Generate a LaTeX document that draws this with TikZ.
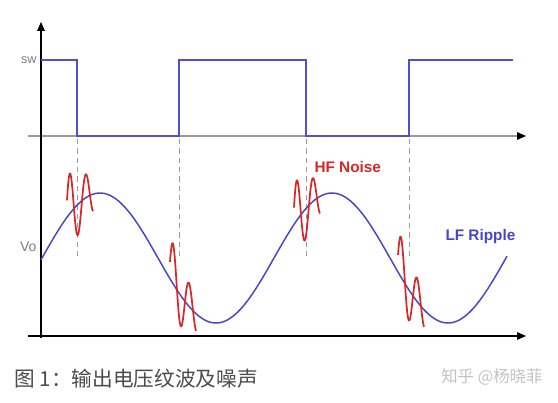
\documentclass[tikz,border=0pt]{standalone}
\usepackage{fontspec}
\setmainfont{Liberation Sans}
\newfontfamily\cjkfont{Noto Sans CJK SC}

\definecolor{swblue}{RGB}{80,80,215}
\definecolor{rippleblue}{RGB}{70,70,205}
\definecolor{noisered}{RGB}{215,40,40}
\definecolor{axisgray}{RGB}{155,155,155}
\definecolor{labelgray}{RGB}{125,125,125}
\definecolor{captiongray}{RGB}{75,75,75}
\definecolor{markgray}{RGB}{195,195,195}

\tikzset{every picture/.style={line width=0.75pt}}

\begin{document}
\begin{tikzpicture}[x=0.75pt,y=0.75pt,yscale=-1,xscale=1]
\path [use as bounding box] (0,0) rectangle (558,403);

%Straight Lines [sw baseline] 
\draw [color=axisgray, line width=2.2]    (28,136) -- (518,136) ;
\draw [shift={(526,136)}, rotate = 180] [fill=black, draw=none]    (0,0) -- (9,-4) -- (9,4) -- cycle   ;
%Straight Lines [vertical axis] 
\draw [line width=1.5]    (41,338) -- (41,30) ;
\draw [shift={(41,22)}, rotate = 90] [fill=black, draw=none]    (0,0) -- (9,-4) -- (9,4) -- cycle   ;
%Straight Lines [time axis] 
\draw [line width=1.5]    (28,336) -- (518,336) ;
\draw [shift={(526,336)}, rotate = 180] [fill=black, draw=none]    (0,0) -- (9,-4) -- (9,4) -- cycle   ;

%Switch node waveform 
\draw [color=swblue, line width=2]    (41,60) -- (77,60) -- (77,136) -- (179,136) -- (179,60) -- (306,60) -- (306,136) -- (409,136) -- (409,60) -- (513,60) ;

%Dashed edge markers 
\foreach \xe in {77,179,306,409}
  \draw [color=axisgray, dash pattern=on 4pt off 3pt]    (\xe,139) -- (\xe,260) ;

%LF ripple 
\draw [color=rippleblue, line width=1.1]    plot [domain=41:507, samples=200, smooth] (\x, {258-65*sin((\x-42)/232*360)}) ;

%HF noise bursts 
\foreach \s/\e in {67/93,170/196,294/320,398/424}
  \draw [color=noisered, line width=1.3, line join=round]    plot [domain=\s:\e, samples=70, smooth] (\x, {258-65*sin((\x-42)/232*360)-44*exp(-(\x-\s)/30)*sin((\x-\s+1)/16*360)}) ;

% Text Node
\draw (38,60) node [anchor=east][inner sep=0.75pt][text=labelgray, font=\fontsize{9.5}{10}\selectfont] (swlbl)    {sw};
% Text Node
\draw (38,247) node [anchor=east][inner sep=0.75pt][text=labelgray, font=\fontsize{10.5}{11}\selectfont] (volbl)    {Vo};
% Text Node
\draw (314,167) node [anchor=west][inner sep=0pt][text=noisered, font=\bfseries\fontsize{11.5}{12}\selectfont] (hflbl)    {HF Noise};
% Text Node
\draw (445,237) node [anchor=west][inner sep=0pt][text=rippleblue, font=\bfseries\fontsize{11.5}{12}\selectfont] (lflbl)    {LF Ripple};
% Text Node
\draw (14,379) node [anchor=west][inner sep=0pt][text=captiongray, font=\cjkfont\fontsize{15.5}{18}\selectfont] (caption)    {图 1：输出电压纹波及噪声};
% Text Node
\draw (543,377) node [anchor=east][inner sep=0pt][text=markgray, font=\cjkfont\fontsize{12.3}{14}\selectfont] (mark)    {知乎 @杨晓菲};

\end{tikzpicture}
\end{document}
